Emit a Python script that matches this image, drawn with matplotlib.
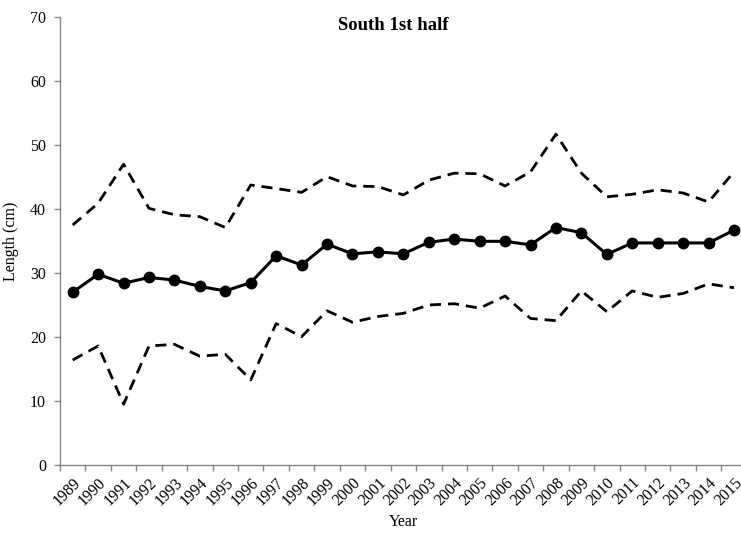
import matplotlib
matplotlib.use("Agg")
import matplotlib.pyplot as plt
import numpy as np

years = [str(y) for y in range(1989, 2016)]
mean_len = [27.0, 29.8, 28.4, 29.3, 28.9, 27.9, 27.2, 28.5, 32.7, 31.25, 34.5, 33.0, 33.3, 33.0,
            34.8, 35.3, 34.95, 34.95, 34.4, 37.1, 36.3, 32.9, 34.7, 34.7, 34.7, 34.7, 36.7]
upper_len = [37.5, 40.9, 47.0, 40.1, 39.1, 38.8, 37.1, 43.75, 43.2, 42.6, 45.05, 43.6, 43.5, 42.2,
             44.5, 45.6, 45.5, 43.6, 45.8, 51.7, 45.6, 41.9, 42.3, 43.0, 42.5, 41.1, 45.8]
lower_len = [16.4, 18.6, 9.5, 18.6, 18.85, 17.0, 17.3, 13.3, 22.1, 20.05, 24.1, 22.3, 23.2, 23.7,
             25.0, 25.2, 24.5, 26.4, 22.9, 22.55, 27.2, 23.95, 27.2, 26.2, 26.8, 28.3, 27.7]
y_ticks = [0, 10, 20, 30, 40, 50, 60, 70]

plt.rcParams['font.family'] = ['Liberation Serif', 'DejaVu Serif']

fig = plt.figure(figsize=(7.41, 5.33), dpi=100)
ax = fig.add_axes([60 / 741, 68 / 533, 686.7 / 741, 448 / 533])

x = np.arange(len(years))
ax.plot(x, upper_len, color='black', lw=2.0, ls=(0, (4, 2.5)))
ax.plot(x, lower_len, color='black', lw=2.0, ls=(0, (4, 2.5)))
ax.plot(x, mean_len, color='black', lw=2.2, marker='o', markersize=7.5)

ax.set_xlim(-0.5, len(years) - 0.5)
ax.set_ylim(0, 70)
ax.set_yticks(y_ticks)
ax.tick_params(axis='y', labelsize=11.5, length=4, color='#868686', width=1, pad=6)

ax.set_xticks(x)
ax.set_xticklabels(years, rotation=45, ha='right', rotation_mode='anchor', fontsize=11.5)
ax.tick_params(axis='x', which='major', length=0, pad=7)
ax.set_xticks(np.arange(len(years) + 1) - 0.5, minor=True)
ax.tick_params(axis='x', which='minor', length=4, color='#868686', width=1)

for s in ['top', 'right']:
    ax.spines[s].set_visible(False)
for s in ['left', 'bottom']:
    ax.spines[s].set_color('#868686')
    ax.spines[s].set_linewidth(1)

fig.text(393 / 741, 1 - 26 / 533, 'South 1st half', fontweight='bold', fontsize=13.5,
         ha='center', va='center')
ax.set_ylabel('Length (cm)', fontsize=11.5, labelpad=8)
ax.set_xlabel('Year', fontsize=11.5, labelpad=4)

fig.savefig('out.png', dpi=100)
